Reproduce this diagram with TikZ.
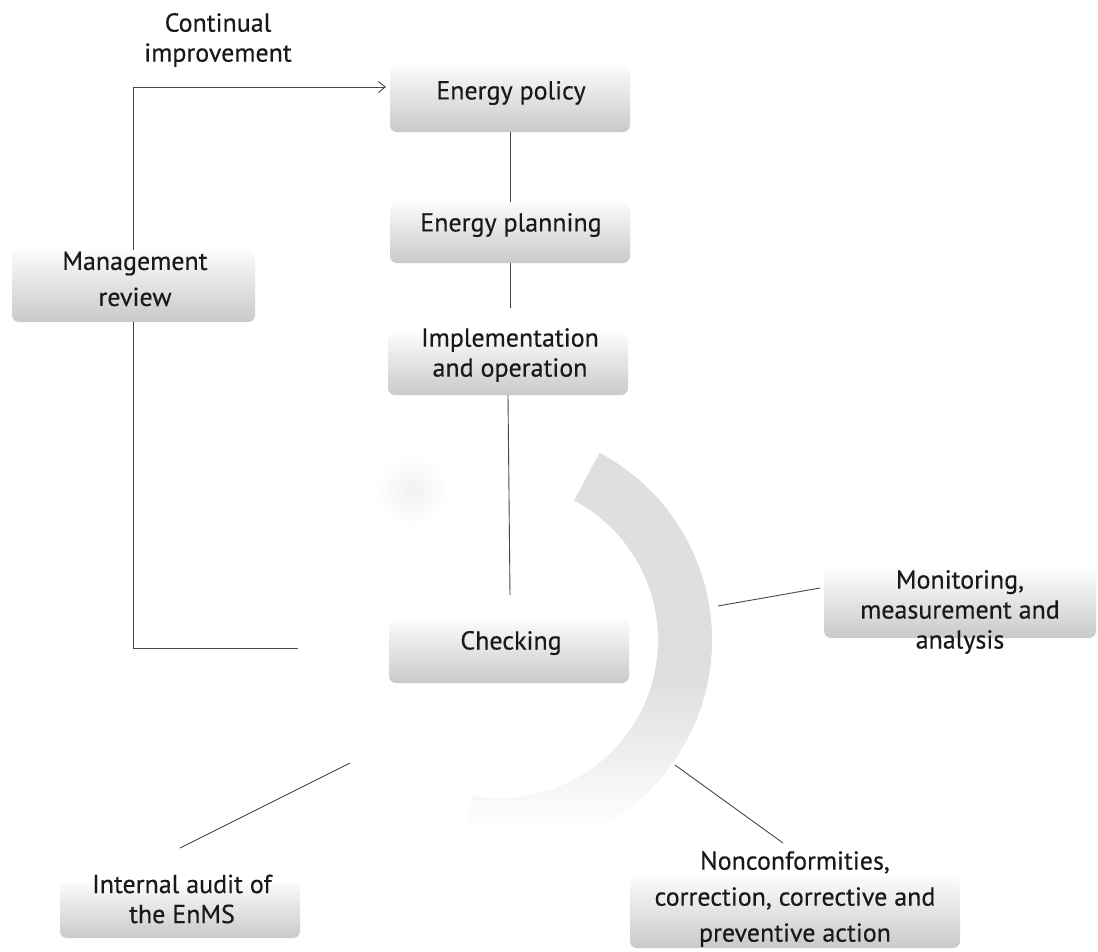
\documentclass[tikz,border=0pt]{standalone}
\usepackage{fontspec}
\setmainfont{PT Sans}[BoldFont=PT Sans, BoldFeatures={FakeBold=0.35}]
\usetikzlibrary{arrows.meta,shadows}
\begin{document}
\begin{tikzpicture}[x=1pt,y=-1pt,
  boxnode/.style={rounded corners=7pt, top color=gray!3, middle color=gray!17, bottom color=gray!42, inner sep=0pt, minimum width=240pt},
  lbl/.style={text=black!90, align=center, font=\fontsize{26}{30}\selectfont\bfseries, inner sep=0pt},
  biglbl/.style={lbl, font=\fontsize{26}{36}\selectfont\bfseries},
  conn/.style={draw=black!72, line width=0.9pt}]
\useasboundingbox[fill=white] (0,0) rectangle (1098,951);

% faint blob
\shade[inner color=gray!11, outer color=white] (412,490) circle[radius=36];

% arc band
\begin{scope}[shift={(500,640)}]
  \clip (-62:212) arc[start angle=-62,end angle=100,radius=212] -- (100:158) arc[start angle=100,end angle=-62,radius=158] -- cycle;
  \fill[gray!25] (-260,-260) rectangle (260,40);
  \shade[top color=gray!25, bottom color=white] (-260,40) rectangle (260,190);
\end{scope}

% boxes
\node[boxnode, minimum height=67pt] (pol) at (510,98.5) {};
\node[boxnode, minimum height=61pt] (pla) at (510,232.5) {};
\node[boxnode, minimum height=62pt] (imp) at (508,364) {};
\node[boxnode, minimum height=63pt] (chk) at (509,651.5) {};
\node[boxnode, minimum width=243pt, minimum height=72pt] (mgr) at (133.5,286) {};
\node[boxnode, minimum width=272pt, minimum height=68pt] (mon) at (960,604) {};
\node[boxnode, minimum height=55pt] (ia) at (180,910.5) {};
\node[boxnode, minimum width=330pt, minimum height=71pt] (nc) at (795,912.5) {};

% texts
\node[lbl] (ciT) at (218,40) {Continual\\improvement};
\node[lbl] (polT) at (511,93) {Energy policy};
\node[lbl] (plaT) at (511,225) {Energy planning};
\node[lbl] (impT) at (510,355) {Implementation\\and operation};
\node[lbl] (chkT) at (511,643) {Checking};
\node[biglbl] (mgrT) at (135,279) {Management\\review};
\node[lbl] (monT) at (960,612) {Monitoring,\\measurement and\\analysis};
\node[lbl] (iaT) at (182,899) {Internal audit of\\the EnMS};
\node[biglbl] (ncT) at (795,899) {Nonconformities,\\correction, corrective and\\preventive action};

% coordinates
\coordinate (arrEnd) at (386,87);
\coordinate (impTop) at (510,308);
\coordinate (chkTop) at (510,595);
\coordinate (mgrEnd) at (298,648);
\coordinate (monA) at (718,606);
\coordinate (monB) at (820,588);
\coordinate (ncA) at (675,765);
\coordinate (ncB) at (783,843);
\coordinate (iaA) at (350,763);
\coordinate (iaB) at (180,848);

% connectors
\draw[conn] (pol.south) -- (pla.north);
\draw[conn] (pla.south) -- (impTop);
\draw[conn] (imp.south) -- (chkTop);
\draw[conn, -{Straight Barb[length=7pt,width=11pt]}] (mgr.north) |- (arrEnd);
\draw[conn] (mgr.south) |- (mgrEnd);
\draw[conn] (monA) -- (monB);
\draw[conn] (ncA) -- (ncB);
\draw[conn] (iaA) -- (iaB);
\end{tikzpicture}
\end{document}
